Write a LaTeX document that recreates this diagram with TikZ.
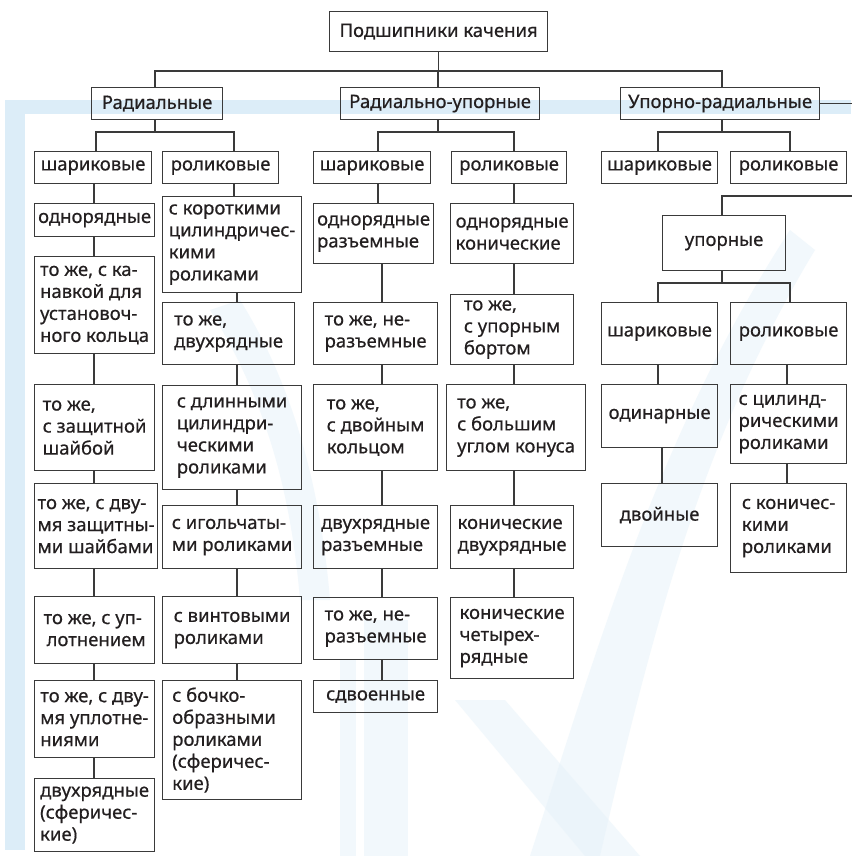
\documentclass[tikz,border=0pt]{standalone}
\usepackage{fontspec}
\setmainfont{Noto Sans}[FakeBold=0.5]
\definecolor{band}{HTML}{DCEDF8}
\definecolor{wm}{HTML}{E6F2FA}
\definecolor{ink}{HTML}{231F20}
\definecolor{edge}{HTML}{3A3A3A}
\tikzset{
  box/.style={draw=edge, line width=1.2pt, fill=none, rectangle, inner xsep=3pt, inner ysep=0pt,
    align=left, text=ink, font=\fontsize{18.5}{22}\selectfont},
  cbox/.style={box, align=center},
  link/.style={draw=edge, line width=1.2pt}
}
\newcommand\bx[7][box]{%
  \pgfmathsetmacro\bxw{#5-#3}\pgfmathsetmacro\bxh{#6-#4}%
  \node[#1, minimum width=\bxw pt, minimum height=\bxh pt, anchor=north west] (#2) at (#3,#4) {#7};}
\newcommand\padr{\rule{16pt}{0pt}}
\begin{document}
\begin{tikzpicture}[x=1pt,y=-1pt]
\useasboundingbox (0,0) rectangle (851,856);
\fill[white] (0,0) rectangle (851,856);
% background watermark
\begin{scope}[opacity=0.5]
\fill[wm] (340,660) rectangle (356,856);
\fill[wm] (364,620) rectangle (408,856);
\fill[wm] (455,700) -- (505,700) -- (640,856) -- (585,856) -- cycle;
\fill[wm] (530,856) .. controls (600,640) and (660,430) .. (790,230) -- (815,250) .. controls (700,440) and (650,640) .. (600,856) -- cycle;
\fill[wm] (240,300) .. controls (290,380) and (320,480) .. (330,600) -- (300,600) .. controls (290,480) and (260,390) .. (210,310) -- cycle;
\end{scope}
\fill[band] (5,100) rectangle (851,114);
\fill[band] (5,100) rectangle (25,850);
% top levels
\bx[cbox]{top}{329}{11}{547}{51}{Подшипники качения}
\bx[cbox]{r}{91}{87}{222}{119}{Радиальные}
\bx[cbox]{ru}{340}{87}{539}{119}{Радиально-упорные}
\bx[cbox]{ur}{620}{87}{819}{119}{Упорно-радиальные}
\bx[cbox]{rb}{34}{151}{151}{183}{шариковые}
\bx[cbox]{rr}{162}{151}{278}{183}{роликовые}
\bx[cbox]{rub}{313}{151}{430}{183}{шариковые}
\bx[cbox]{rur}{451}{151}{566}{183}{роликовые}
\bx[cbox]{urb}{601}{151}{717}{183}{шариковые}
\bx[cbox]{urr}{730}{151}{846}{183}{роликовые}
% column 1
\bx{a1}{34}{203}{154}{236}{однорядные}
\bx{a2}{34}{256}{154}{353}{то же, с ка-\\навкой для\\установоч-\\ного кольца}
\bx{a3}{34}{384}{154}{470}{то же,\\с защитной\\шайбой}
\bx{a4}{34}{483}{154}{568}{то же, с дву-\\мя защитны-\\ми шайбами}
\bx{a5}{34}{596}{154}{663}{то же, с уп-\\\,лотнением}
\bx{a6}{34}{680}{154}{757}{то же, с дву-\\мя уплотне-\\ниями}
\bx{a7}{34}{778}{154}{851}{двухрядные\\(сферичес-\\кие)}
% column 2
\bx{b1}{162}{196}{301}{292}{с короткими\\цилиндричес-\\кими\\роликами}
\bx{b2}{162}{302}{294}{364}{то же,\\двухрядные}
\bx{b3}{162}{385}{301}{489}{с длинными\\цилиндри-\\ческими\\роликами}
\bx{b4}{162}{505}{301}{568}{с игольчаты-\\ми роликами}
\bx{b5}{162}{596}{301}{663}{с винтовыми\\роликами}
\bx{b6}{162}{680}{301}{799}{с бочко-\\образными\padr\\роликами\\(сферичес-\padr\\кие)}
% column 3
\bx{c1}{313}{203}{433}{263}{однорядные\\разъемные}
\bx{c2}{313}{302}{437}{364}{то же, не-\\разъемные}
\bx{c3}{313}{384}{437}{470}{то же,\\с двойным\\кольцом}
\bx{c4}{313}{505}{437}{568}{двухрядные\\разъемные}
\bx{c5}{313}{597}{437}{659}{то же, не-\\разъемные}
\bx{c6}{313}{680}{437}{712}{сдвоенные}
% column 4
\bx{d1}{450}{203}{573}{263}{однорядные\\конические}
\bx{d2}{450}{294}{573}{364}{то же,\\с упорным\\бортом}
\bx{d3}{446}{384}{585}{470}{то же,\\с большим\\углом конуса}
\bx{d4}{450}{505}{573}{568}{конические\\двухрядные}
\bx{d5}{450}{597}{573}{678}{конические\\четырех-\\рядные}
% thrust-radial
\bx[cbox]{e0}{662}{215}{785}{270}{упорные}
\bx[cbox]{e1}{601}{302}{717}{364}{шариковые}
\bx[cbox]{e2}{730}{302}{846}{364}{роликовые}
\bx[cbox]{e3}{601}{384}{717}{447}{одинарные}
\bx[cbox]{e4}{601}{483}{717}{546}{двойные}
\bx{f1}{730}{384}{846}{463}{с цилинд-\\рическими\\роликами}
\bx{f2}{730}{483}{846}{572}{с коничес-\\кими\\роликами}
% x positions of connector lines
\coordinate (xr) at (155,0);
\coordinate (xru) at (438,0);
\coordinate (xur) at (722,0);
\coordinate (xrb) at (96,0);
\coordinate (xrr) at (234,0);
\coordinate (xrub) at (378,0);
\coordinate (xrur) at (514,0);
\coordinate (xurb) at (658,0);
\coordinate (xurr) at (790,0);
\coordinate (x1) at (94,0);
\coordinate (x2) at (237,0);
\coordinate (x3) at (382,0);
\coordinate (x4) at (514,0);
\coordinate (xe1) at (658,0);
\coordinate (xe2) at (662,0);
\coordinate (xf) at (787,0);
\coordinate (bus0) at (0,71);
\coordinate (bus1) at (0,132);
\coordinate (bus2) at (0,283);
\coordinate (side) at (853,196);
% top bus
\draw[link] (top.south) -- (top.south |- bus0);
\draw[link] (r.north -| xr) -- (xr |- bus0) -- (xur |- bus0) -- (ur.north -| xur);
\draw[link] (ru.north -| xru) -- (xru |- bus0);
% level 2 buses
\draw[link] (r.south -| xr) -- (xr |- bus1);
\draw[link] (rb.north -| xrb) -- (xrb |- bus1) -- (xrr |- bus1) -- (rr.north -| xrr);
\draw[link] (ru.south -| xru) -- (xru |- bus1);
\draw[link] (rub.north -| xrub) -- (xrub |- bus1) -- (xrur |- bus1) -- (rur.north -| xrur);
\draw[link] (ur.south -| xur) -- (xur |- bus1);
\draw[link] (urb.north -| xurb) -- (xurb |- bus1) -- (xurr |- bus1) -- (urr.north -| xurr);
% column chains
\draw[link] (rb.south -| x1) -- (a1.north -| x1);
\draw[link] (a1.south -| x1) -- (a2.north -| x1);
\draw[link] (a2.south -| x1) -- (a3.north -| x1);
\draw[link] (a3.south -| x1) -- (a4.north -| x1);
\draw[link] (a4.south -| x1) -- (a5.north -| x1);
\draw[link] (a5.south -| x1) -- (a6.north -| x1);
\draw[link] (a6.south -| x1) -- (a7.north -| x1);
\draw[link] (rr.south -| xrr) -- (b1.north -| xrr);
\draw[link] (b1.south -| x2) -- (b2.north -| x2);
\draw[link] (b2.south -| x2) -- (b3.north -| x2);
\draw[link] (b3.south -| x2) -- (b4.north -| x2);
\draw[link] (b4.south -| x2) -- (b5.north -| x2);
\draw[link] (b5.south -| x2) -- (b6.north -| x2);
\draw[link] (rub.south -| xrub) -- (c1.north -| xrub);
\draw[link] (c1.south -| x3) -- (c2.north -| x3);
\draw[link] (c2.south -| x3) -- (c3.north -| x3);
\draw[link] (c3.south -| x3) -- (c4.north -| x3);
\draw[link] (c4.south -| x3) -- (c5.north -| x3);
\draw[link] (c5.south -| x3) -- (c6.north -| x3);
\draw[link] (rur.south -| xrur) -- (d1.north -| xrur);
\draw[link] (d1.south -| x4) -- (d2.north -| x4);
\draw[link] (d2.south -| x4) -- (d3.north -| x4);
\draw[link] (d3.south -| x4) -- (d4.north -| x4);
\draw[link] (d4.south -| x4) -- (d5.north -| x4);
% thrust branch
\draw[link] (ur.east) -- (ur.east -| side) -- (side) -- (xur |- side) -- (e0.north -| xur);
\draw[link] (e0.south -| xur) -- (xur |- bus2);
\draw[link] (e1.north -| xe1) -- (xe1 |- bus2) -- (xurr |- bus2) -- (e2.north -| xurr);
\draw[link] (e1.south -| xe1) -- (e3.north -| xe1);
\draw[link] (e3.south -| xe2) -- (e4.north -| xe2);
\draw[link] (e2.south -| xf) -- (f1.north -| xf);
\draw[link] (f1.south -| xf) -- (f2.north -| xf);
\end{tikzpicture}
\end{document}
